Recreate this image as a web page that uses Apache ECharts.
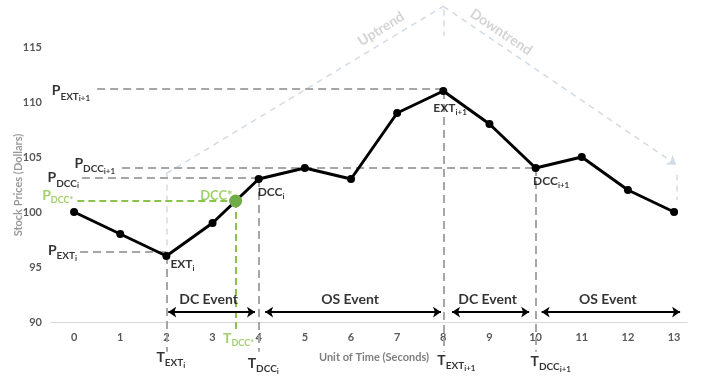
<!DOCTYPE html>
<html><head><meta charset="utf-8">
<script src="https://cdn.jsdelivr.net/npm/echarts@6/dist/echarts.min.js"></script>
<style>html,body{margin:0;padding:0;background:#fff}#c{width:702px;height:379px}</style>
</head><body><div id="c"></div>
<script>
// ---- data ----
const times = [0,1,2,3,4,5,6,7,8,9,10,11,12,13];
const prices = [100,98,96,99,103,104,103,109,111,108,104,105,102,100];
const xTicks = [0,1,2,3,4,5,6,7,8,9,10,11,12,13];
const yTicks = [90,95,100,105,110,115];
const dccStar = [3.5, 101];
const extIdx = 2, dccIdx = 4, ext1Idx = 8, dcc1Idx = 10;
const guideExt1 = 111.2, guideDcc1 = 104.0, guideDcc = 103.1, guideExt = 96.4;
const trendStart = [2, 103.5], trendPeak = [8, 118.7], trendEnd = [13.05, 104.3];
const eventY = 90.9;
const eventSpans = [[2.04, 3.92], [4.14, 7.95], [8.19, 9.86], [10.13, 13.13]];
const eventNames = ['DC Event', 'OS Event', 'DC Event', 'OS Event'];

// ---- styles ----
const F = "'Lato','Open Sans',sans-serif";
const GREEN = '#8BC34A', GREENPT = '#70AD47', GRAY = '#a6a6a6', LIGHT = '#d3dbe6';
const base = {fontFamily: F, fontWeight: 'bold'};
const rich = {
  b:  Object.assign({}, base, {fontSize: 14, lineHeight: 14, color: '#000'}),
  s:  Object.assign({}, base, {fontSize: 10, lineHeight: 10, color: '#000', padding: [11, 0, 0, 0]}),
  ss: Object.assign({}, base, {fontSize: 8, lineHeight: 8, color: '#000', padding: [16, 0, 0, 0]}),
  m:  Object.assign({}, base, {fontSize: 12, lineHeight: 12, color: '#000'}),
  ms: Object.assign({}, base, {fontSize: 8, lineHeight: 8, color: '#000', padding: [8, 0, 0, 0]}),
  gb: Object.assign({}, base, {fontSize: 14, lineHeight: 14, color: GREEN}),
  gs: Object.assign({}, base, {fontSize: 9, lineHeight: 9, color: GREEN, padding: [10, 0, 0, 0]}),
  g:  Object.assign({}, base, {fontSize: 13, lineHeight: 13, color: GREEN}),
  ev: Object.assign({}, base, {fontSize: 14, lineHeight: 14, color: '#000'}),
  tr: Object.assign({}, base, {fontSize: 14, lineHeight: 14, color: '#c9c9c9'}),
  ax: Object.assign({}, base, {fontSize: 11, lineHeight: 11, color: '#7f7f7f'})
};

function ann(x, y, text, align, dx, dy, rotate) {
  return {value: [x, y], label: {show: true, position: 'inside', formatter: text, align: align,
    verticalAlign: 'middle', offset: [dx, dy], rotate: rotate || 0, rich: rich}};
}
const P = i => [times[i], prices[i]];
const annotations = [
  ann(0.5, guideExt1, '{b|P}{s|EXT}{ss|i+1}', 'right', -7, 2),
  ann(1.04, guideDcc1, '{b|P}{s|DCC}{ss|i+1}', 'right', -7, -5),
  ann(0.17, guideDcc, '{b|P}{s|DCC}{ss|i}', 'right', -3, 0),
  ann(0.07, dccStar[1], '{gb|P}{gs|DCC*}', 'right', -4, -6),
  ann(0.13, guideExt, '{b|P}{s|EXT}{ss|i}', 'right', -3, -1),
  ann(P(extIdx)[0], P(extIdx)[1], '{m|EXT}{ms|i}', 'left', 4, 8),
  ann(P(dccIdx)[0], P(dccIdx)[1], '{m|DCC}{ms|i}', 'left', -1, 13.5),
  ann(P(ext1Idx)[0], P(ext1Idx)[1], '{m|EXT}{ms|i+1}', 'left', -10, 17),
  ann(P(dcc1Idx)[0], P(dcc1Idx)[1], '{m|DCC}{ms|i+1}', 'left', -2.5, 13),
  ann(dccStar[0], dccStar[1], '{g|DCC*}', 'right', -3, -5.5),
  ann(times[extIdx], 90, '{b|T}{s|EXT}{ss|i}', 'left', -10, 35),
  ann(times[dccIdx], 90, '{b|T}{s|DCC}{ss|i}', 'left', -11, 41.5),
  ann(times[ext1Idx], 90, '{b|T}{s|EXT}{ss|i+1}', 'left', -6, 38.5),
  ann(times[dcc1Idx], 90, '{b|T}{s|DCC}{ss|i+1}', 'left', -5, 39),
  ann(dccStar[0], 90, '{gb|T}{gs|DCC*}', 'left', -12.5, 16.5),
  ann(6.652, 116.64, '{tr|Uptrend}', 'center', 0, 0, 32),
  ann(9.252, 116.36, '{tr|Downtrend}', 'center', 0, 0, -34),
  ann(-1.213, 102.45, '{ax|Stock Prices (Dollars)}', 'center', 0, 0, 90)
];
eventSpans.forEach((s, i) => {
  annotations.push(ann((s[0] + s[1]) / 2, eventY, '{ev|' + eventNames[i] + '}', 'center', -3, -13));
});

const grayGuides = [
  [[0.5, guideExt1], [times[ext1Idx], guideExt1]],
  [[1.04, guideDcc1], [times[dcc1Idx], guideDcc1]],
  [[0.17, guideDcc], [times[dccIdx], guideDcc]],
  [[0.13, guideExt], [times[extIdx], guideExt]],
  [[times[extIdx], prices[extIdx]], [times[extIdx], 87.3]],
  [[times[dccIdx], prices[dccIdx]], [times[dccIdx], 87.3]],
  [[times[ext1Idx], prices[ext1Idx]], [times[ext1Idx], 87.3]],
  [[times[dcc1Idx], prices[dcc1Idx]], [times[dcc1Idx], 87.3]]
];
const greenGuides = [
  [[0.07, dccStar[1]], [dccStar[0], dccStar[1]]],
  [[dccStar[0], dccStar[1]], [dccStar[0], 89.0]]
];
const lightLines = [
  [trendStart, trendPeak],
  [[trendPeak[0], 118.4], [trendPeak[0], 116.0]],
  [[trendEnd[0], 103.4], [trendEnd[0], 101.1]],
  [[trendStart[0], trendStart[1]], [trendStart[0], prices[extIdx]]]
];

const chart = echarts.init(document.getElementById('c'), null, {renderer: 'canvas'});
chart.setOption({
  animation: false,
  grid: {left: 51, right: 15, top: 3, bottom: 57},
  xAxis: {
    type: 'value', min: -0.5, max: 13.28,
    axisLine: {show: true, lineStyle: {color: '#d9d9d9', width: 1}},
    axisTick: {show: false}, splitLine: {show: false},
    axisLabel: {customValues: xTicks, color: '#595959', fontWeight: 'bold', fontSize: 11, fontFamily: F, margin: 10},
    name: 'Unit of Time (Seconds)', nameLocation: 'middle', nameGap: 30,
    nameTextStyle: {color: '#7f7f7f', fontWeight: 'bold', fontSize: 11, fontFamily: F, padding: [0, 0, 0, 10]}
  },
  yAxis: {
    type: 'value', min: 90, max: 119,
    axisLine: {show: false}, axisTick: {show: false}, splitLine: {show: false},
    axisLabel: {customValues: yTicks, color: '#595959', fontWeight: 'bold', fontSize: 11, fontFamily: F, margin: 9}
  },
  series: [
    {type: 'lines', coordinateSystem: 'cartesian2d', clip: false, silent: true, z: 1,
     lineStyle: {color: LIGHT, width: 1.5, type: [6, 5], opacity: 1},
     data: lightLines.map(c => ({coords: c}))},
    {type: 'lines', coordinateSystem: 'cartesian2d', clip: false, silent: true, z: 1,
     symbol: ['none', 'arrow'], symbolSize: 9,
     lineStyle: {color: LIGHT, width: 1.5, type: [6, 5], opacity: 1},
     data: [{coords: [trendPeak, trendEnd]}]},
    {type: 'lines', coordinateSystem: 'cartesian2d', clip: false, silent: true, z: 2,
     lineStyle: {color: GRAY, width: 2, type: [8, 5], opacity: 1},
     data: grayGuides.map(c => ({coords: c}))},
    {type: 'lines', coordinateSystem: 'cartesian2d', clip: false, silent: true, z: 2,
     lineStyle: {color: GREEN, width: 2, type: [7, 4], opacity: 1},
     data: greenGuides.map(c => ({coords: c}))},
    {type: 'lines', coordinateSystem: 'cartesian2d', clip: false, silent: true, z: 3,
     symbol: ['arrow', 'arrow'], symbolSize: 8,
     lineStyle: {color: '#000', width: 2, type: 'solid', opacity: 1},
     data: eventSpans.map(s => ({coords: [[s[0], eventY], [s[1], eventY]]}))},
    {type: 'line', z: 4, silent: true,
     data: times.map((t, i) => [t, prices[i]]),
     symbol: 'circle', symbolSize: 8, showSymbol: true,
     itemStyle: {color: '#000'}, lineStyle: {color: '#000', width: 3}},
    {type: 'scatter', z: 5, silent: true, data: [dccStar], symbolSize: 13,
     itemStyle: {color: GREENPT, opacity: 1}},
    {type: 'scatter', z: 6, silent: true, clip: false, symbolSize: 0, data: annotations}
  ]
});
</script></body></html>
